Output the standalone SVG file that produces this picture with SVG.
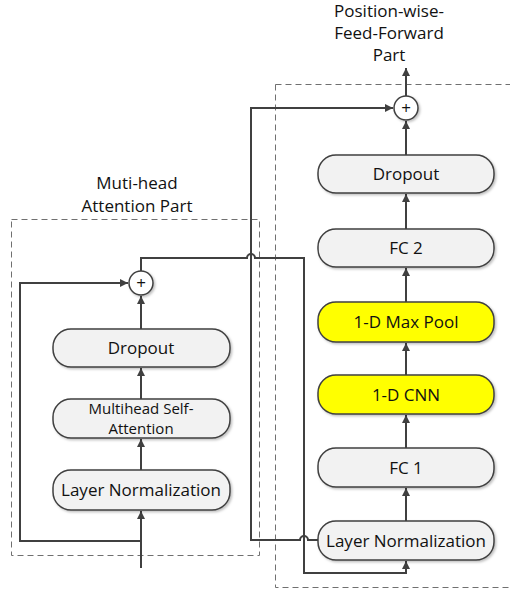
<svg xmlns="http://www.w3.org/2000/svg" width="510" height="593" viewBox="0 0 510 593">
  <defs>
    <marker id="arrow" viewBox="0 0 10 10" refX="10" refY="5" markerWidth="8" markerHeight="9" markerUnits="userSpaceOnUse" orient="auto">
      <path d="M0,0 L10,5 L0,10 z" fill="#404040"/>
    </marker>
    <filter id="shadow" x="-10%" y="-20%" width="130%" height="160%">
      <feDropShadow dx="1.5" dy="1.5" stdDeviation="1" flood-color="#000" flood-opacity="0.25"/>
    </filter>
  </defs>
  <style>
    .node { fill: #f2f2f2; stroke: #404040; stroke-width: 1.5; filter: url(#shadow); }
    .hl { fill: #ffff00; }
    .circ { fill: #ffffff; stroke: #404040; stroke-width: 1.5; filter: url(#shadow); }
    .lbl { font-family: "Open Sans", "Liberation Sans", sans-serif; font-size: 17px; fill: #111; text-anchor: middle; }
    .title { font-family: "Open Sans", "Liberation Sans", sans-serif; font-size: 17px; fill: #111; text-anchor: middle; }
    .wire { fill: none; stroke: #404040; stroke-width: 2; }
    .frame { fill: none; stroke: #707070; stroke-width: 1; stroke-dasharray: 6 4; }
  </style>
  <rect width="510" height="593" fill="#ffffff"/>

  <!-- part frames -->
  <g id="frames">
    <rect class="frame" x="11.5" y="219.5" width="248" height="336"/>
    <rect class="frame" x="275.5" y="84.5" width="240" height="503"/>
    <text class="title" x="137" y="189">Muti-head</text>
    <text class="title" x="137" y="212">Attention Part</text>
    <text class="title" x="389" y="17">Position-wise-</text>
    <text class="title" x="389" y="39">Feed-Forward</text>
    <text class="title" x="389" y="61">Part</text>
  </g>

  <!-- connectors -->
  <g id="connectors">
    <!-- attention block -->
    <path class="wire" d="M141,568 L141,511" marker-end="url(#arrow)"/>
    <path class="wire" d="M141,541 L20,541 L20,283 L128,283" marker-end="url(#arrow)"/>
    <path class="wire" d="M141,470 L141,439" marker-end="url(#arrow)"/>
    <path class="wire" d="M141,399 L141,368" marker-end="url(#arrow)"/>
    <path class="wire" d="M141,329 L141,296" marker-end="url(#arrow)"/>
    <path class="wire" d="M141,271 L141,258 L247,258 A4,4 0 0 1 255,258 L304,258 L304,573 L406,573 L406,561" marker-end="url(#arrow)"/>
    <!-- residual into feed-forward add -->
    <path class="wire" d="M318,540 L308,540 A4,4 0 0 0 300,540 L251,540 L251,108 L393,108" marker-end="url(#arrow)"/>
    <!-- feed-forward block -->
    <path class="wire" d="M406,521 L406,488" marker-end="url(#arrow)"/>
    <path class="wire" d="M406,448 L406,415" marker-end="url(#arrow)"/>
    <path class="wire" d="M406,375 L406,343" marker-end="url(#arrow)"/>
    <path class="wire" d="M406,302 L406,268" marker-end="url(#arrow)"/>
    <path class="wire" d="M406,229 L406,194" marker-end="url(#arrow)"/>
    <path class="wire" d="M406,155 L406,121" marker-end="url(#arrow)"/>
    <path class="wire" d="M406,96 L406,68" marker-end="url(#arrow)"/>
  </g>

  <!-- attention part nodes -->
  <g id="attn-layernorm">
    <rect class="node" x="53" y="470" width="177" height="40" rx="18"/>
    <text class="lbl" x="141" y="496">Layer Normalization</text>
  </g>
  <g id="attn-selfattention">
    <rect class="node" x="53" y="399" width="177" height="39" rx="18"/>
    <text class="lbl" x="141" y="414" style="font-size:15px">Multihead Self-</text>
    <text class="lbl" x="141" y="434" style="font-size:15px">Attention</text>
  </g>
  <g id="attn-dropout">
    <rect class="node" x="53" y="329" width="177" height="38" rx="18"/>
    <text class="lbl" x="141" y="354">Dropout</text>
  </g>
  <g id="attn-add">
    <circle class="circ" cx="141" cy="283" r="12"/>
    <text class="lbl" x="141" y="289" style="font-size:17px">+</text>
  </g>

  <!-- feed-forward part nodes -->
  <g id="ff-layernorm">
    <rect class="node" x="318" y="521" width="176" height="39" rx="18"/>
    <text class="lbl" x="406" y="547">Layer Normalization</text>
  </g>
  <g id="ff-fc1">
    <rect class="node" x="318" y="448" width="176" height="39" rx="18"/>
    <text class="lbl" x="406" y="474">FC 1</text>
  </g>
  <g id="ff-cnn">
    <rect class="node hl" x="318" y="375" width="176" height="39" rx="18"/>
    <text class="lbl" x="406" y="401">1-D CNN</text>
  </g>
  <g id="ff-maxpool">
    <rect class="node hl" x="318" y="302" width="176" height="40" rx="18"/>
    <text class="lbl" x="406" y="328">1-D Max Pool</text>
  </g>
  <g id="ff-fc2">
    <rect class="node" x="318" y="229" width="176" height="38" rx="18"/>
    <text class="lbl" x="406" y="254">FC 2</text>
  </g>
  <g id="ff-dropout">
    <rect class="node" x="318" y="155" width="176" height="38" rx="18"/>
    <text class="lbl" x="406" y="180">Dropout</text>
  </g>
  <g id="ff-add">
    <circle class="circ" cx="406" cy="108" r="12"/>
    <text class="lbl" x="406" y="114" style="font-size:17px">+</text>
  </g>
</svg>
